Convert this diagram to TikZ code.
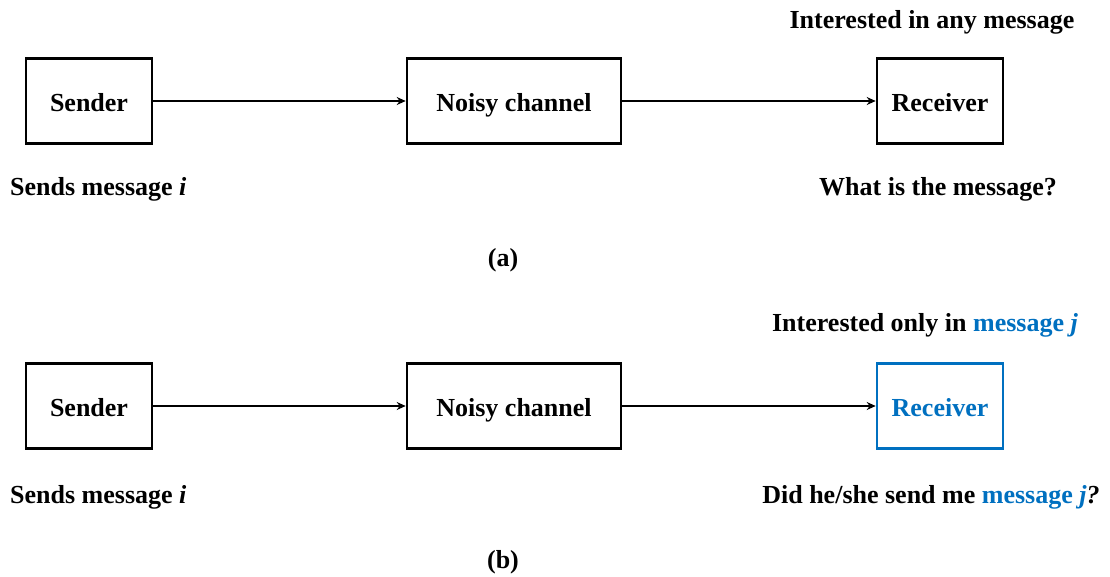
\documentclass[tikz,border=0pt]{standalone}
\usepackage{fontspec}
\setmainfont{Liberation Serif}
\usetikzlibrary{arrows.meta}
\definecolor{accent}{HTML}{0070C0}
\begin{document}
\begin{tikzpicture}[x=1pt,y=-1pt,
  box/.style={draw,line width=2.6pt,minimum width=126pt,minimum height=85pt,inner sep=0pt,
    text height=24pt,text depth=4pt,font=\fontsize{26}{30}\selectfont\bfseries},
  widebox/.style={box,minimum width=214pt},
  flow/.style={line width=2.2pt,-{Stealth[length=9pt,width=8pt]}},
  lbl/.style={font=\fontsize{26}{30}\selectfont\bfseries,inner sep=0pt,anchor=base}]
\useasboundingbox (0,0) rectangle (1110,576);
% (a) plain receiver
\node[box] (s1) at (89,101) {Sender};
\node[widebox] (c1) at (514,101) {Noisy channel};
\node[box] (r1) at (940,101) {Receiver};
\draw[flow] (s1) -- (c1);
\draw[flow] (c1) -- (r1);
\node[lbl,anchor=base west] (t1) at (10,195) {Sends message \textit{i}};
\node[lbl] (t2) at (932,28) {Interested in any message};
\node[lbl] (t3) at (938,195) {What is the message?};
\node[lbl] (t4) at (503,266) {(a)};
% (b) receiver looking for one message
\node[box] (s2) at (89,406) {Sender};
\node[widebox] (c2) at (514,406) {Noisy channel};
\node[box,draw=accent,text=accent] (r2) at (940,406) {Receiver};
\draw[flow] (s2) -- (c2);
\draw[flow] (c2) -- (r2);
\node[lbl,anchor=base west] (t5) at (10,503) {Sends message \textit{i}};
\node[lbl] (t6) at (925,331) {Interested only in \textcolor{accent}{message \textit{j}}};
\node[lbl] (t7) at (931,503) {Did he/she send me \textcolor{accent}{message \textit{j}}\textit{?}};
\node[lbl] (t8) at (503,568) {(b)};
\end{tikzpicture}
\end{document}
